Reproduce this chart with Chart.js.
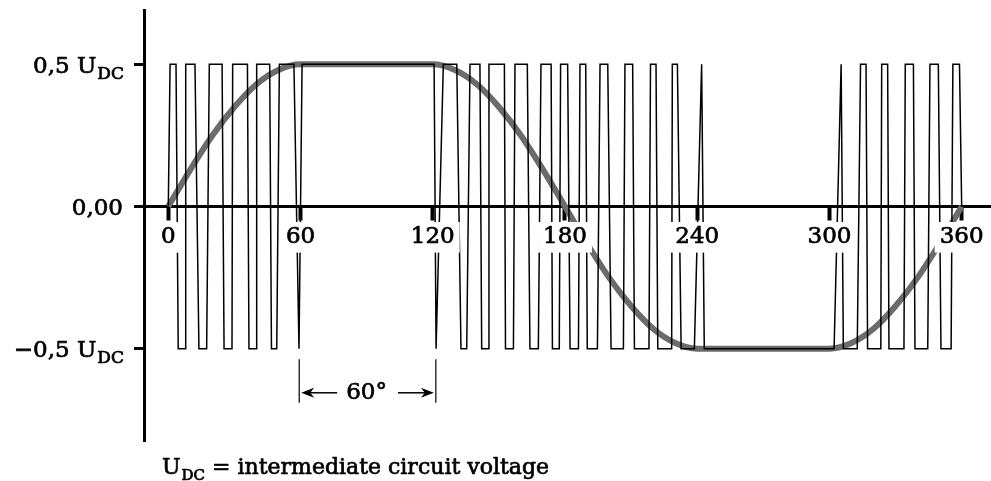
<!DOCTYPE html>
<html>
<head>
<meta charset="utf-8">
<script src="https://cdn.jsdelivr.net/npm/chart.js@4/dist/chart.umd.min.js"></script>
<style>
  html, body { margin: 0; padding: 0; background: #fff; }
  #wrap { width: 991px; height: 481px; }
</style>
</head>
<body>
<div id="wrap"><canvas id="pwmChart" width="991" height="481"></canvas></div>
<script>
// PWM output voltage (thin black line): switching angle in degrees and level
const pwmAngle = [
    0, 0.8, 3.5, 4.5, 7.6, 7.9, 12.1, 13.9, 17.4, 18.6, 24.4, 25.3, 28.9, 29.2, 35.9,
    36.6, 39.8, 40.1, 46.0, 46.8, 49.2, 50.4, 57.0, 59.3, 60.7, 120.6, 121.5,
    124.8, 130.9, 132.8, 135.4, 136.9, 141.4, 142.2, 145.2, 145.5, 152.5, 153.0, 156.6,
    157.3, 162.9, 164.1, 167.9, 169.1, 173.7, 174.3, 177.4, 178.0, 181.2, 182.3, 186.1,
    186.8, 189.4, 190.1, 194.7, 195.9, 199.4, 200.9, 206.5, 207.2, 210.7, 211.5, 218.1,
    218.8, 221.3, 222.1, 228.4, 228.7, 231.0, 232.7, 238.7, 242.0, 243.2, 302.1,
    305.3, 306.3, 312.6, 314.1, 316.6, 317.3, 323.3, 323.7, 326.4, 327.0, 333.8,
    334.4, 338.1, 338.8, 344.6, 345.6, 349.4, 350.6, 355.2, 356.0, 359.0, 360
];
const pwmLevel = [
    0, 0.5, 0.5, -0.5, -0.5, 0.5, 0.5, -0.5, -0.5, 0.5, 0.5, -0.5, -0.5, 0.5, 0.5,
    -0.5, -0.5, 0.5, 0.5, -0.5, -0.5, 0.5, 0.5, -0.5, 0.5, 0.5, -0.5,
    0.5, 0.5, -0.5, -0.5, 0.5, 0.5, -0.5, -0.5, 0.5, 0.5, -0.5, -0.5,
    0.5, 0.5, -0.5, -0.5, 0.5, 0.5, -0.5, -0.5, 0.5, 0.5, -0.5, -0.5,
    0.5, 0.5, -0.5, -0.5, 0.5, 0.5, -0.5, -0.5, 0.5, 0.5, -0.5, -0.5,
    0.5, 0.5, -0.5, -0.5, 0.5, 0.5, -0.5, -0.5, 0.5, -0.5, -0.5,
    0.5, -0.5, -0.5, 0.5, 0.5, -0.5, -0.5, 0.5, 0.5, -0.5, -0.5,
    0.5, 0.5, -0.5, -0.5, 0.5, 0.5, -0.5, -0.5, 0.5, 0.5, 0
];

// resulting phase voltage (thick grey curve), flattened at the top
const waveAngle = [0, 10, 20, 30, 40, 50, 60, 90, 120, 130, 140, 150, 160, 170, 180,
    190, 200, 210, 220, 230, 240, 270, 300, 310, 320, 330, 340, 350, 360];
const waveValue = [0, 0.13, 0.25, 0.35, 0.43, 0.48, 0.5, 0.5, 0.5, 0.48, 0.43, 0.35, 0.25, 0.13, 0,
    -0.13, -0.25, -0.35, -0.43, -0.48, -0.5, -0.5, -0.5, -0.48, -0.43, -0.35, -0.25, -0.13, 0];

// axes
const xTickValues = [0, 60, 120, 180, 240, 300, 360];
const yTickValues = [0.5, 0, -0.5];
const yTickLabels = ['0,5 U', '0,00', '\u22120,5 U'];
const yTickSubs = ['DC', '', 'DC'];

// the "60°" span marked below the chart
const spanAngles = [59.4, 121.4];
const spanLabel = '60°';
const captionParts = ['U', 'DC', ' = intermediate circuit voltage'];

const serif = '"DejaVu Serif", serif';
const textStroke = 0.7; // thickens the book weight a little

function putText(ctx, str, x, y) {
    ctx.fillText(str, x, y);
    ctx.strokeText(str, x, y);
}

// draws text with a subscript part, aligned on the right or left of x
function drawWithSub(ctx, main, sub, rest, x, baseline, align, size, subSize) {
    ctx.font = size + 'px ' + serif;
    const wMain = ctx.measureText(main).width;
    const wRest = rest ? ctx.measureText(rest).width : 0;
    ctx.font = subSize + 'px ' + serif;
    const wSub = sub ? ctx.measureText(sub).width : 0;
    let left = align === 'right' ? x - wMain - wSub - wRest : x;
    ctx.textAlign = 'left';
    ctx.textBaseline = 'alphabetic';
    ctx.font = size + 'px ' + serif;
    putText(ctx, main, left, baseline);
    if (sub) {
        ctx.font = subSize + 'px ' + serif;
        putText(ctx, sub, left + wMain + 1, baseline + 6);
    }
    if (rest) {
        ctx.font = size + 'px ' + serif;
        putText(ctx, rest, left + wMain + wSub + 1, baseline);
    }
}

function drawArrow(ctx, fromX, toX, y) {
    const dir = toX > fromX ? 1 : -1;
    ctx.beginPath();
    ctx.moveTo(fromX, y);
    ctx.lineTo(toX - dir * 8, y);
    ctx.stroke();
    ctx.beginPath();
    ctx.moveTo(toX, y);
    ctx.lineTo(toX - dir * 13, y - 5);
    ctx.lineTo(toX - dir * 9, y);
    ctx.lineTo(toX - dir * 13, y + 5);
    ctx.closePath();
    ctx.fill();
}

const overlayPlugin = {
    id: 'overlay',
    afterDraw(chart) {
        const ctx = chart.ctx;
        const x = chart.scales.x;
        const y = chart.scales.y;
        ctx.save();
        ctx.fillStyle = '#000';
        ctx.strokeStyle = '#000';
        ctx.lineJoin = 'round';
        ctx.lineWidth = textStroke;

        // y axis labels (with subscript)
        yTickValues.forEach((v, i) => {
            const py = y.getPixelForValue(v);
            drawWithSub(ctx, yTickLabels[i], yTickSubs[i], '', 123, py + 8.5, 'right', 23, 17);
        });

        // caption
        drawWithSub(ctx, captionParts[0], captionParts[1], captionParts[2], 162, 474, 'left', 22, 15);

        // span marker
        const x1 = x.getPixelForValue(spanAngles[0]);
        const x2 = x.getPixelForValue(spanAngles[1]);
        const barTop = y.getPixelForValue(-0.537);
        const barBottom = y.getPixelForValue(-0.69);
        const midY = y.getPixelForValue(-0.655);
        ctx.font = '23px ' + serif;
        ctx.textAlign = 'center';
        ctx.textBaseline = 'middle';
        const cx = (x1 + x2) / 2;
        putText(ctx, spanLabel, cx - 1, midY);
        const half = ctx.measureText(spanLabel).width / 2;
        ctx.lineWidth = 1.2;
        [x1, x2].forEach(px => {
            ctx.beginPath();
            ctx.moveTo(px, barTop);
            ctx.lineTo(px, barBottom);
            ctx.stroke();
        });
        ctx.lineWidth = 1.5;
        drawArrow(ctx, cx - half - 10, x1 + 2, midY);
        drawArrow(ctx, cx + half + 10, x2 - 2, midY);
        ctx.restore();
    }
};

const ctx = document.getElementById('pwmChart').getContext('2d');
new Chart(ctx, {
    type: 'line',
    data: {
        datasets: [{
            label: 'PWM',
            data: pwmAngle.map((a, i) => ({ x: a, y: pwmLevel[i] })),
            borderColor: '#000',
            borderWidth: 1.5,
            pointRadius: 0,
            tension: 0,
            order: 0
        }, {
            label: 'Phase voltage',
            data: waveAngle.map((a, i) => ({ x: a, y: waveValue[i] })),
            borderColor: '#6b6b6b',
            borderWidth: 6,
            pointRadius: 0,
            cubicInterpolationMode: 'monotone',
            order: 1
        }]
    },
    options: {
        responsive: false,
        animation: false,
        layout: { padding: { top: 10, bottom: 40, left: 0, right: 0 } },
        plugins: {
            legend: { display: false },
            tooltip: { enabled: false }
        },
        scales: {
            x: {
                type: 'linear',
                position: { y: 0 },
                min: -11.03,
                max: 373.3,
                afterBuildTicks: scale => {
                    scale.ticks = xTickValues.map(v => ({ value: v }));
                },
                border: { display: true, color: '#000', width: 3 },
                grid: {
                    display: true,
                    drawOnChartArea: false,
                    drawTicks: true,
                    tickLength: 12.5,
                    tickWidth: 4,
                    tickColor: '#000'
                },
                ticks: {
                    autoSkip: false,
                    maxRotation: 0,
                    padding: 4,
                    color: '#000',
                    font: { family: serif, size: 23 },
                    textStrokeColor: '#000',
                    textStrokeWidth: textStroke,
                    showLabelBackdrop: true,
                    backdropColor: '#fff',
                    backdropPadding: { top: 1, bottom: 2, left: 5, right: 5 },
                    z: 1,
                    callback: v => String(v)
                }
            },
            y: {
                type: 'linear',
                position: 'left',
                min: -0.8245,
                max: 0.691,
                afterBuildTicks: scale => {
                    scale.ticks = yTickValues.map(v => ({ value: v }));
                },
                afterFit: scale => { scale.width = 144; },
                border: { display: true, color: '#000', width: 3 },
                grid: {
                    display: true,
                    drawOnChartArea: false,
                    drawTicks: true,
                    tickLength: 10,
                    tickWidth: 3,
                    tickColor: '#000'
                },
                ticks: { display: false }
            }
        }
    },
    plugins: [overlayPlugin]
});
</script>
</body>
</html>
